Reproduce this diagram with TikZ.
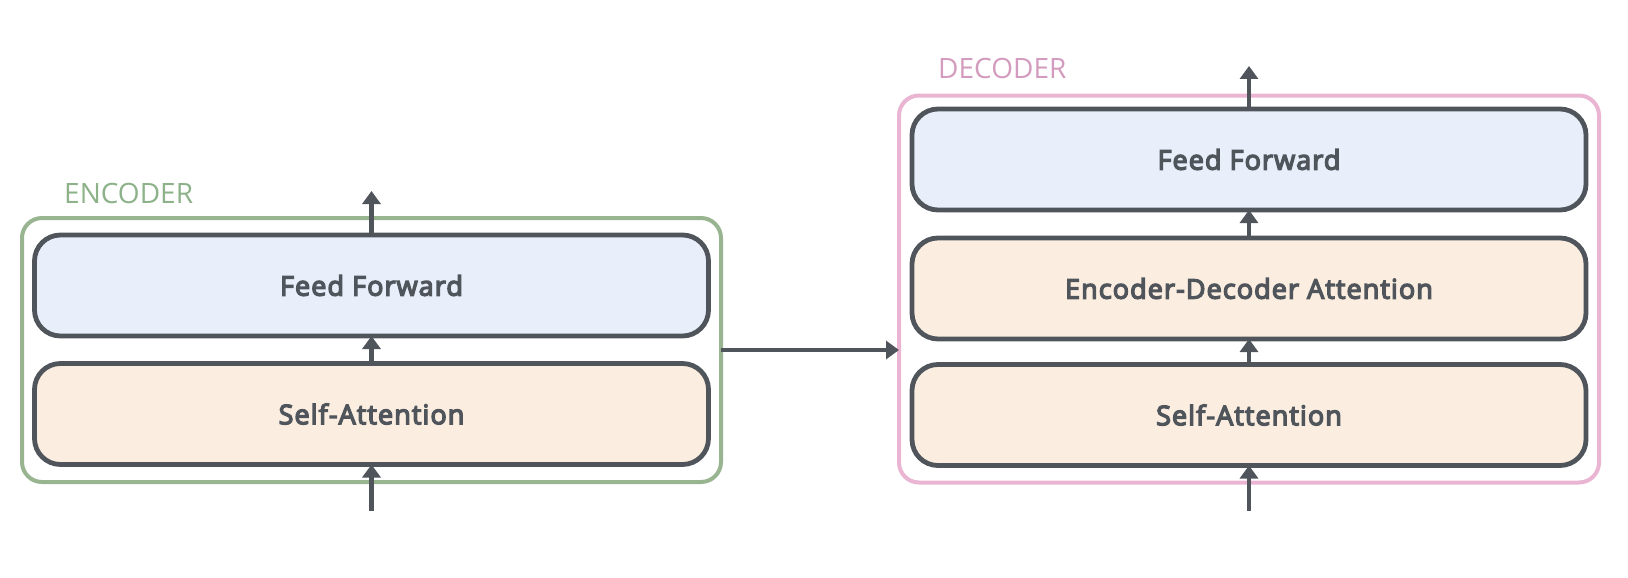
\documentclass[tikz,border=0pt]{standalone}
\usepackage{fontspec}
\setmainfont{Open Sans}
\newfontfamily\semifont{Open Sans}[FakeBold=5,LetterSpace=4]
\usetikzlibrary{arrows.meta}
\definecolor{dk}{HTML}{50555C}
\definecolor{txt}{HTML}{50555C}
\definecolor{ffblue}{HTML}{E8EFFA}
\definecolor{attpeach}{HTML}{FBEEE0}
\definecolor{encgreen}{HTML}{98B491}
\definecolor{enclabel}{HTML}{8DB28A}
\definecolor{decpink}{HTML}{EAB5D2}
\definecolor{declabel}{HTML}{D39BBD}
\begin{document}
\begin{tikzpicture}[x=1pt,y=-1pt,
  layer/.style={draw=dk,line width=4.8pt,rounded corners=26pt,minimum width=674pt,minimum height=101pt,inner sep=0pt,outer sep=0pt,font=\semifont\fontsize{27}{30}\selectfont,text=txt},
  ff/.style={layer,fill=ffblue},
  att/.style={layer,fill=attpeach},
  outerbox/.style={line width=4pt,rounded corners=20pt,inner sep=0pt,outer sep=0pt},
  flow/.style={draw=dk,line width=4.8pt,-{Triangle[length=13pt,width=18pt]}},
  lbl/.style={font=\fontsize{28}{32}\selectfont,inner sep=0pt,anchor=base west}
]
\useasboundingbox (0,0) rectangle (1628,578);
% encoder
\node[outerbox,draw=encgreen,minimum width=699pt,minimum height=264pt] (encoder) at (371.5,350) {};
\node[ff] (eff) at (371.5,285.5) {Feed Forward};
\node[att] (esa) at (371.5,414) {Self-Attention};
\node[lbl,text=enclabel] (enclbl) at (64,203) {ENCODER};
% decoder
\node[outerbox,draw=decpink,minimum width=700pt,minimum height=387pt] (decoder) at (1249,289) {};
\node[ff] (dff) at (1249,159.5) {Feed Forward};
\node[att] (deda) at (1249,288.5) {Encoder-Decoder Attention};
\node[att] (dsa) at (1249,415) {Self-Attention};
\node[lbl,text=declabel] (declbl) at (938,78) {DECODER};
% connectors
\coordinate (eout) at (371.5,191);
\coordinate (ein) at (371.5,511);
\coordinate (dout) at (1249,66);
\coordinate (din) at (1249,511);
\draw[flow] (ein) -- (esa.south);
\draw[flow] (esa.north) -- (eff.south);
\draw[flow] (eff.north) -- (eout);
\draw[flow] (encoder.east) -- (encoder.east -| decoder.west);
\draw[flow] (din) -- (dsa.south);
\draw[flow] (dsa.north) -- (deda.south);
\draw[flow] (deda.north) -- (dff.south);
\draw[flow] (dff.north) -- (dout);
\end{tikzpicture}
\end{document}
